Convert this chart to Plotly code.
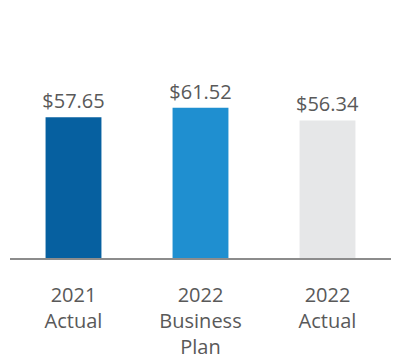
import plotly.graph_objects as go

categories = ["2021<br>Actual", "2022<br>Business<br>Plan", "2022<br>Actual"]
values = [57.65, 61.52, 56.34]
labels = ["$57.65", "$61.52", "$56.34"]
colors = ["#0660a0", "#1f8fd0", "#e6e7e8"]

fig = go.Figure(go.Bar(
    x=categories, y=values, text=labels, textposition="outside",
    constraintext="none",
    marker=dict(color=colors, line=dict(width=0)),
    textfont=dict(family="Open Sans", size=20, color="#595959"),
    cliponaxis=False, hoverinfo="skip",
))
fig.update_layout(
    width=400, height=360,
    margin=dict(l=2, r=17, t=2, b=110, autoexpand=False),
    paper_bgcolor="white", plot_bgcolor="white",
    bargap=0.56, showlegend=False,
    font=dict(family="Open Sans", size=20, color="#595959"),
    xaxis=dict(showline=True, linecolor="#8c8c8c", linewidth=2, ticks="",
               automargin=False,
               ticklabelstandoff=18, tickfont=dict(size=20, color="#595959"),
               showgrid=False, zeroline=False),
    yaxis=dict(range=[0, 101.6], visible=False, showgrid=False, zeroline=False,
               automargin=False),
)
fig.write_html("out.html")
